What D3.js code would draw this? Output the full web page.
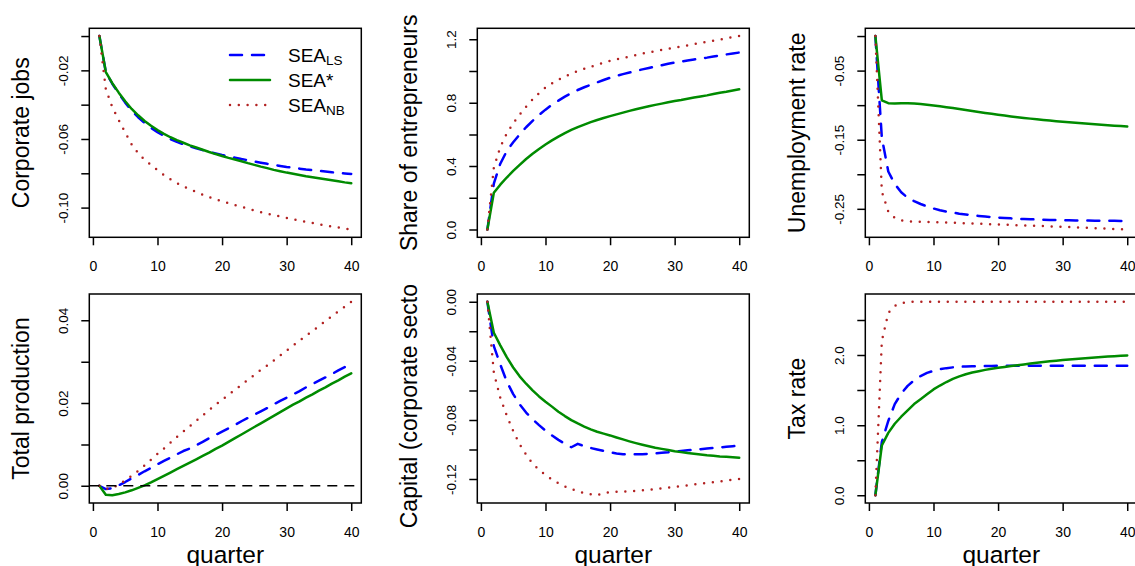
<!DOCTYPE html>
<html>
<head>
<meta charset="utf-8">
<script src="https://cdn.jsdelivr.net/npm/d3@7"></script>
<style>
body { margin: 0; background: #fff; }
svg { display: block; font-family: "Liberation Sans", Arial, sans-serif; }
</style>
</head>
<body>
<svg id="chart" width="1135" height="566"></svg>
<script>

// DATA (one value per quarter)

const quarters = [1,2,3,4,5,6,7,8,9,10,11,12,13,14,15,16,17,18,19,20,
                  21,22,23,24,25,26,27,28,29,30,31,32,33,34,35,36,37,38,39,40];
const xTicks = [0, 10, 20, 30, 40];

// Corporate jobs
const jobsLS   = [0,-0.021,-0.0278,-0.0335,-0.0388,-0.0435,-0.0473,-0.0506,-0.0535,-0.056,-0.0582,-0.0601,-0.0617,-0.0631,-0.0643,-0.0655,-0.0665,-0.0675,-0.0684,-0.0693,-0.0701,-0.0709,-0.0717,-0.0724,-0.0732,-0.0738,-0.0745,-0.0751,-0.0757,-0.0763,-0.0768,-0.0773,-0.0778,-0.0782,-0.0786,-0.079,-0.0794,-0.0798,-0.0801,-0.0804];
const jobsStar = [0,-0.021,-0.0275,-0.033,-0.038,-0.0425,-0.0462,-0.0495,-0.0523,-0.0548,-0.057,-0.059,-0.0607,-0.0622,-0.0637,-0.065,-0.0663,-0.0676,-0.0688,-0.0699,-0.071,-0.072,-0.073,-0.0741,-0.0751,-0.0761,-0.077,-0.078,-0.0788,-0.0796,-0.0803,-0.081,-0.0817,-0.0823,-0.0829,-0.0835,-0.0841,-0.0847,-0.0853,-0.0858];
const jobsNB   = [0,-0.031,-0.0415,-0.049,-0.0562,-0.0632,-0.0683,-0.0722,-0.0752,-0.0782,-0.081,-0.0835,-0.0857,-0.0877,-0.0893,-0.0909,-0.0925,-0.0939,-0.0952,-0.0963,-0.0975,-0.0986,-0.0996,-0.1006,-0.1016,-0.1026,-0.1035,-0.1044,-0.1052,-0.106,-0.1068,-0.1076,-0.1083,-0.109,-0.1097,-0.1104,-0.111,-0.1116,-0.1122,-0.1128];
const jobsTicks  = [-0.10, -0.08, -0.06, -0.04, -0.02, 0.00];
const jobsLabels = [-0.10, -0.06, -0.02];

// Share of entrepreneurs
const entreLS   = [0,0.29,0.415,0.495,0.55,0.6,0.645,0.685,0.722,0.756,0.787,0.813,0.838,0.86,0.88,0.897,0.913,0.928,0.943,0.957,0.969,0.98,0.99,1.0,1.01,1.019,1.028,1.036,1.045,1.053,1.059,1.066,1.072,1.078,1.084,1.091,1.097,1.104,1.11,1.116];
const entreStar = [0,0.232,0.283,0.328,0.37,0.408,0.445,0.478,0.508,0.536,0.562,0.586,0.608,0.628,0.646,0.662,0.677,0.691,0.703,0.715,0.726,0.737,0.748,0.758,0.768,0.777,0.786,0.794,0.802,0.81,0.817,0.825,0.832,0.839,0.846,0.854,0.862,0.869,0.877,0.884];
const entreNB   = [0,0.39,0.52,0.605,0.67,0.725,0.775,0.82,0.86,0.895,0.922,0.945,0.965,0.983,1.0,1.013,1.026,1.039,1.051,1.063,1.073,1.082,1.091,1.1,1.109,1.117,1.124,1.132,1.139,1.147,1.154,1.161,1.169,1.176,1.183,1.19,1.198,1.205,1.213,1.22];
const entreTicks  = [0, 0.2, 0.4, 0.6, 0.8, 1.0, 1.2];
const entreLabels = [0, 0.4, 0.8, 1.2];

// Unemployment rate
const unempLS   = [0,-0.147,-0.196,-0.214,-0.226,-0.234,-0.239,-0.243,-0.2465,-0.2495,-0.252,-0.254,-0.2555,-0.257,-0.2582,-0.2593,-0.2603,-0.2612,-0.262,-0.2627,-0.2633,-0.2638,-0.2643,-0.2647,-0.2651,-0.2654,-0.2657,-0.266,-0.2662,-0.2664,-0.2666,-0.2668,-0.2669,-0.267,-0.2671,-0.2672,-0.2673,-0.2674,-0.2675,-0.2675];
const unempStar = [0,-0.093,-0.0972,-0.0975,-0.0973,-0.0972,-0.0975,-0.0983,-0.0993,-0.1004,-0.1016,-0.1029,-0.1042,-0.1056,-0.1071,-0.1085,-0.1099,-0.1113,-0.1126,-0.1139,-0.1151,-0.1163,-0.1174,-0.1185,-0.1195,-0.1205,-0.1214,-0.1223,-0.1232,-0.124,-0.1248,-0.1255,-0.1262,-0.1269,-0.1276,-0.1283,-0.129,-0.1297,-0.1303,-0.131];
const unempNB   = [0,-0.225,-0.254,-0.263,-0.2665,-0.268,-0.2685,-0.2688,-0.269,-0.2693,-0.2696,-0.2699,-0.2702,-0.2706,-0.2709,-0.2713,-0.2716,-0.272,-0.2723,-0.2727,-0.273,-0.2734,-0.2737,-0.274,-0.2743,-0.2747,-0.275,-0.2753,-0.2757,-0.276,-0.2764,-0.2768,-0.2772,-0.2776,-0.278,-0.2784,-0.2788,-0.2792,-0.2796,-0.28];
const unempTicks  = [-0.25, -0.20, -0.15, -0.10, -0.05, 0.00];
const unempLabels = [-0.25, -0.15, -0.05];

// Total production
const prodLS   = [0,-0.0008,-0.0006,0.0001,0.0009,0.0018,0.0026,0.0035,0.0043,0.0052,0.006,0.0068,0.0076,0.0084,0.009,0.0098,0.0106,0.0115,0.0123,0.0131,0.0139,0.0147,0.0156,0.0164,0.0172,0.018,0.0188,0.0197,0.0205,0.0213,0.0221,0.0229,0.0238,0.0246,0.0254,0.0262,0.027,0.0279,0.0287,0.0295];
const prodStar = [0,-0.0022,-0.0023,-0.002,-0.0016,-0.0011,-0.0005,0.0001,0.0008,0.0016,0.0024,0.0032,0.004,0.0048,0.0056,0.0064,0.0072,0.008,0.0089,0.0097,0.0106,0.0115,0.0124,0.0133,0.0142,0.0151,0.016,0.0169,0.0178,0.0187,0.0196,0.0204,0.0213,0.0221,0.023,0.0238,0.0247,0.0255,0.0264,0.0272];
const prodNB   = [0,-0.0008,-0.0006,0.0003,0.0013,0.0024,0.0036,0.0049,0.0063,0.0077,0.009,0.0104,0.0118,0.0131,0.0144,0.0157,0.017,0.0183,0.0196,0.0208,0.022,0.0232,0.0244,0.0256,0.0268,0.028,0.0291,0.0303,0.0315,0.0327,0.0339,0.0351,0.0363,0.0374,0.0386,0.0398,0.041,0.0422,0.0433,0.0445];
const prodTicks  = [0, 0.01, 0.02, 0.03, 0.04];
const prodLabels = [0, 0.02, 0.04];
const prodRef = 0;   // horizontal reference line

// Capital (corporate sector)
const capLS   = [0,-0.03,-0.0425,-0.054,-0.0625,-0.0695,-0.075,-0.0795,-0.0835,-0.0873,-0.0905,-0.0935,-0.0962,-0.0985,-0.0962,-0.0978,-0.099,-0.1,-0.101,-0.102,-0.1027,-0.1032,-0.1033,-0.1033,-0.1032,-0.103,-0.1027,-0.1023,-0.1019,-0.1014,-0.101,-0.1006,-0.1002,-0.0998,-0.0994,-0.099,-0.0986,-0.0982,-0.0978,-0.0974];
const capStar = [0,-0.021,-0.0295,-0.0375,-0.0445,-0.0505,-0.0555,-0.06,-0.0641,-0.0677,-0.071,-0.0745,-0.0774,-0.0801,-0.0824,-0.0845,-0.0864,-0.088,-0.0893,-0.0905,-0.0919,-0.0932,-0.0945,-0.0957,-0.0968,-0.0978,-0.0988,-0.0996,-0.1004,-0.1012,-0.1018,-0.1024,-0.1029,-0.1034,-0.1039,-0.1043,-0.1047,-0.105,-0.1053,-0.1056];
const capNB   = [0,-0.048,-0.065,-0.077,-0.0875,-0.0965,-0.1035,-0.1095,-0.1137,-0.1172,-0.1203,-0.1228,-0.125,-0.1268,-0.1283,-0.1295,-0.1303,-0.131,-0.1295,-0.1289,-0.1287,-0.1285,-0.1283,-0.128,-0.1277,-0.1273,-0.1268,-0.1263,-0.1258,-0.1253,-0.1248,-0.1243,-0.1237,-0.1232,-0.1227,-0.1222,-0.1216,-0.121,-0.1205,-0.12];
const capTicks  = [-0.12, -0.10, -0.08, -0.06, -0.04, -0.02, 0.00];
const capLabels = [-0.12, -0.08, -0.04, 0.00];

// Tax rate
const taxLS   = [0,0.76,1.06,1.3,1.45,1.56,1.64,1.7,1.745,1.775,1.797,1.813,1.824,1.832,1.837,1.84,1.842,1.844,1.845,1.846,1.846,1.846,1.846,1.846,1.846,1.846,1.846,1.846,1.846,1.846,1.846,1.846,1.846,1.846,1.846,1.846,1.846,1.846,1.846,1.846];
const taxStar = [0,0.71,0.89,1.02,1.12,1.21,1.3,1.37,1.44,1.51,1.565,1.615,1.66,1.695,1.725,1.75,1.77,1.788,1.804,1.818,1.83,1.842,1.853,1.866,1.878,1.889,1.9,1.91,1.92,1.929,1.937,1.945,1.952,1.959,1.966,1.972,1.978,1.984,1.99,1.995];
const taxNB   = [0,2.2,2.6,2.7,2.74,2.755,2.76,2.76,2.76,2.76,2.76,2.76,2.76,2.76,2.76,2.76,2.76,2.76,2.76,2.76,2.76,2.76,2.76,2.76,2.76,2.76,2.76,2.76,2.76,2.76,2.76,2.76,2.76,2.76,2.76,2.76,2.76,2.76,2.76,2.76];
const taxTicks  = [0, 0.5, 1.0, 1.5, 2.0, 2.5];
const taxLabels = [0, 1.0, 2.0];

const legendNames = [["SEA", "LS"], ["SEA*", ""], ["SEA", "NB"]];


// LAYOUT

const W = 1135, H = 566;
const BOX_W = 272, BOX_H = 209;
const colLeft = [89.3, 477.3, 865.3];
const rowTop = [28.3, 294];
const FONT = "'Liberation Sans', Arial, sans-serif";

const styles = {
    ls:   {color: "#0000FF", dash: "12 10", cap: "round"},
    star: {color: "#008B00", dash: null,    cap: "round"},
    nb:   {color: "#B22222", dash: "0 8.8", cap: "round"}
};

const panels = [
    {title: "Corporate jobs", ls: jobsLS, star: jobsStar, nb: jobsNB, ticks: jobsTicks, labels: jobsLabels, dec: 2, col: 0, row: 0, legend: true},
    {title: "Share of entrepreneurs", ls: entreLS, star: entreStar, nb: entreNB, ticks: entreTicks, labels: entreLabels, dec: 1, col: 1, row: 0},
    {title: "Unemployment rate", ls: unempLS, star: unempStar, nb: unempNB, ticks: unempTicks, labels: unempLabels, dec: 2, col: 2, row: 0},
    {title: "Total production", ls: prodLS, star: prodStar, nb: prodNB, ticks: prodTicks, labels: prodLabels, dec: 2, col: 0, row: 1, ref: prodRef},
    {title: "Capital (corporate sector)", ls: capLS, star: capStar, nb: capNB, ticks: capTicks, labels: capLabels, dec: 2, col: 1, row: 1},
    {title: "Tax rate", ls: taxLS, star: taxStar, nb: taxNB, ticks: taxTicks, labels: taxLabels, dec: 1, col: 2, row: 1}
];

const svg = d3.select("#chart");

// R style axis range: data range widened by 4% each side
function rRange(values) {
    const [lo, hi] = d3.extent(values);
    const pad = (hi - lo) * 0.04;
    return [lo - pad, hi + pad];
}

panels.forEach((p, k) => {
    const x0 = colLeft[p.col], y0 = rowTop[p.row];
    const figX = p.col * W / 3, figY = p.row * H / 2;

    svg.append("clipPath").attr("id", "fig" + k)
        .append("rect")
        .attr("x", figX - x0).attr("y", figY - y0)
        .attr("width", W / 3).attr("height", H / 2);

    const g = svg.append("g")
        .attr("transform", `translate(${x0},${y0})`)
        .attr("clip-path", `url(#fig${k})`);

    const x = d3.scaleLinear().domain(rRange(quarters)).range([0, BOX_W]);
    const allY = p.ls.concat(p.star, p.nb, p.ref !== undefined ? [p.ref] : []);
    const y = d3.scaleLinear().domain(rRange(allY)).range([BOX_H, 0]);

    const line = d3.line()
        .x((d, i) => x(quarters[i]))
        .y(d => y(d));

    ["ls", "star", "nb"].forEach(key => {
        const s = styles[key];
        g.append("path")
            .attr("d", line(p[key]))
            .attr("fill", "none")
            .attr("stroke", s.color)
            .attr("stroke-width", 2.5)
            .attr("stroke-linecap", s.cap)
            .attr("stroke-linejoin", "round")
            .attr("stroke-dasharray", s.dash);
    });

    if (p.ref !== undefined) {
        g.append("line")
            .attr("x1", 0).attr("x2", BOX_W)
            .attr("y1", y(p.ref)).attr("y2", y(p.ref))
            .attr("stroke", "#000")
            .attr("stroke-width", 1.6)
            .attr("stroke-dasharray", "10 7");
    }

    // box
    g.append("rect")
        .attr("width", BOX_W).attr("height", BOX_H)
        .attr("fill", "none")
        .attr("stroke", "#000")
        .attr("stroke-width", 1.5);

    // x axis
    const xa = g.append("g")
        .attr("transform", `translate(0,${BOX_H})`)
        .call(d3.axisBottom(x).tickValues(xTicks).tickSize(8).tickFormat(d3.format("d")));
    xa.select(".domain").remove();
    xa.selectAll(".tick line").attr("stroke", "#000").attr("stroke-width", 1.5);
    xa.selectAll("text")
        .attr("y", 34).attr("dy", null)
        .attr("fill", "#000")
        .style("font-size", "14px")
        .style("font-family", FONT);

    // y axis (labels turned, as in R)
    const ya = g.append("g")
        .call(d3.axisLeft(y).tickValues(p.ticks).tickSize(8)
            .tickFormat(v => p.labels.includes(v) ? v.toFixed(p.dec) : ""));
    ya.select(".domain").remove();
    ya.selectAll(".tick line").attr("stroke", "#000").attr("stroke-width", 1.5);
    ya.selectAll("text")
        .attr("x", null)
        .attr("dy", "0.35em")
        .attr("transform", "translate(-26,0) rotate(-90)")
        .attr("text-anchor", "middle")
        .attr("fill", "#000")
        .style("font-size", "13.5px")
        .style("font-family", FONT);

    // y title
    g.append("text")
        .attr("transform", `translate(-60,${BOX_H / 2}) rotate(-90)`)
        .attr("text-anchor", "middle")
        .style("font-size", "23px")
        .text(p.title);

    // x title on the bottom row
    if (p.row === 1) {
        g.append("text")
            .attr("x", BOX_W / 2).attr("y", BOX_H + 59.5)
            .attr("text-anchor", "middle")
            .style("font-size", "24.5px")
            .text("quarter");
    }

    if (p.legend) {
        const lg = g.append("g").attr("transform", "translate(140.7,26.7)");
        ["ls", "star", "nb"].forEach((key, i) => {
            const s = styles[key];
            const row = lg.append("g").attr("transform", `translate(0,${i * 25})`);
            row.append("line")
                .attr("x1", 0).attr("x2", 40)
                .attr("stroke", s.color)
                .attr("stroke-width", 2.5)
                .attr("stroke-linecap", s.cap)
                .attr("stroke-dasharray", s.dash);
            const t = row.append("text")
                .attr("x", 58).attr("y", 7)
                .style("font-size", "19px");
            t.append("tspan").text(legendNames[i][0]);
            if (legendNames[i][1]) {
                t.append("tspan")
                    .attr("dy", 3)
                    .style("font-size", "13.5px")
                    .text(legendNames[i][1]);
            }
        });
    }
});

</script>
</body>
</html>
